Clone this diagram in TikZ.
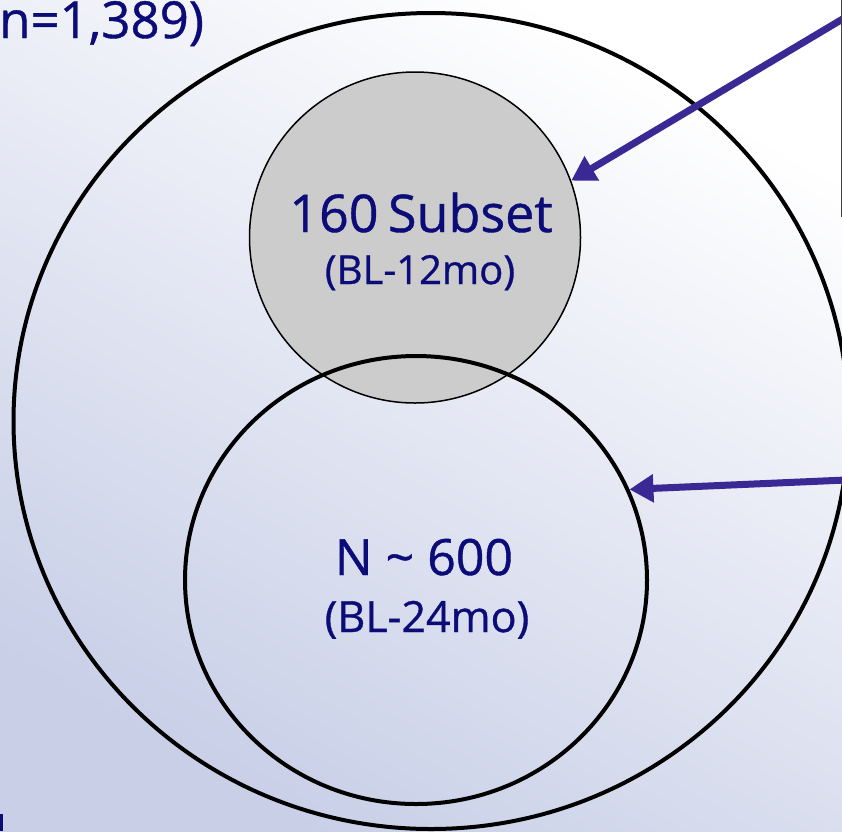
\documentclass[tikz,border=0pt]{standalone}
\usepackage{fontspec}
\setmainfont[FakeBold=0.8]{Open Sans}
\usetikzlibrary{arrows.meta,shapes.geometric}
\definecolor{navy}{RGB}{12,12,120}
\definecolor{arrowblue}{RGB}{58,40,148}
\definecolor{subsetgray}{RGB}{204,204,204}
\definecolor{bgdark}{RGB}{200,207,231}
\definecolor{bgmid}{RGB}{234,237,246}
\begin{document}
\begin{tikzpicture}[x=1pt,y=-1pt,
  ring/.style={draw=black,line width=4pt,ellipse,inner sep=0pt},
  txt/.style={text=navy,inner sep=0pt,anchor=base},
  pointer/.style={draw=arrowblue,line width=7pt,
    -{Triangle[length=24pt,width=27pt]}},
]
\useasboundingbox (0,0) rectangle (842,831);
% slide background: blue-grey at the lower left fading to white
\shade[bottom color=bgdark,middle color=bgmid,top color=white,shading angle=-30]
  (0,0) rectangle (842,831);

% whole cohort
\node[ring,minimum width=835pt,minimum height=816pt] (cohort) at (431,421) {};
% 12-month subset
\node[circle,fill=subsetgray,draw=black,line width=1.5pt,
  minimum size=331pt,inner sep=0pt] (subset) at (415,237.5) {};
% 24-month group
\node[ring,minimum width=462pt,minimum height=448pt] (followup) at (416,580) {};

% labels
\node[txt] (subsetname) at (421,232) {\fontsize{52}{52}\selectfont 160\hspace{-4pt} Subset};
\node[txt] (subsetspan) at (420,284) {\fontsize{40}{40}\selectfont (BL-12mo)};
\node[txt] (followname) at (424,575) {\fontsize{50}{50}\selectfont N \char`~{} 600};
\node[txt] (followspan) at (427,632) {\fontsize{43}{43}\selectfont (BL-24mo)};
\node[txt,anchor=base west] (cohortsize) at (-1,38) {\fontsize{51}{51}\selectfont n=1,389)};

% pointers coming in from the right
\coordinate (src1) at (846,17);
\coordinate (src2) at (846,480);
\draw[pointer] (src1) -- (subset.20);
\draw[pointer] (src2) -- (followup.23);

% edge of the box on the right
\coordinate (ruletop) at (841.5,0);
\coordinate (rulebottom) at (841.5,217);
\draw[line width=1.5pt,draw=black!75] (ruletop) -- (rulebottom);

% letter stub at the lower left
\fill[navy] (0,814) rectangle (3,831);
\end{tikzpicture}
\end{document}
